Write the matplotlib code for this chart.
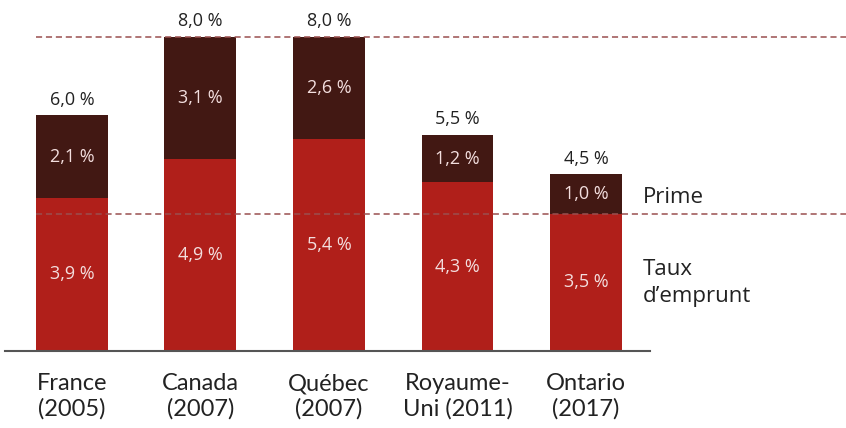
import matplotlib.pyplot as plt

categories = ["France\n(2005)", "Canada\n(2007)", "Québec\n(2007)", "Royaume-\nUni (2011)", "Ontario\n(2017)"]
taux = [3.9, 4.9, 5.4, 4.3, 3.5]
prime = [2.1, 3.1, 2.6, 1.2, 1.0]
totaux = [6.0, 8.0, 8.0, 5.5, 4.5]

red = "#b01f1a"
brown = "#421813"
dash_col = "#9a4f4f"

def fmt(v):
    return ("%.1f %%" % v).replace(".", ",")

fig = plt.figure(figsize=(8.46, 4.28), dpi=100)
ax = fig.add_axes([5 / 846, 1 - 351 / 428, 645 / 846, 351 / 428 - 0.04])

x = list(range(len(categories)))
w = 0.56
ax.bar(x, taux, w, color=red, zorder=2)
ax.bar(x, prime, w, bottom=taux, color=brown, zorder=2)

ax.set_xlim(-0.521, 4.498)
ax.set_ylim(0, 8.5)

# lignes de repere jusqu'au bord droit
for yv in [totaux[1], taux[4]]:
    ax.plot([-0.28, 6.1], [yv, yv], ls=(0, (4, 2.5)), lw=1.1, color=dash_col,
            clip_on=False, zorder=3)

for i in x:
    ax.text(i, taux[i] / 2, fmt(taux[i]), ha="center", va="center",
            color="#f3dede", fontsize=13, family="Open Sans", zorder=4)
    ax.text(i, taux[i] + prime[i] / 2, fmt(prime[i]), ha="center", va="center",
            color="#f3dede", fontsize=13, family="Open Sans", zorder=4)
    ax.text(i, totaux[i] + 0.17, fmt(totaux[i]), ha="center", va="bottom",
            color="#222222", fontsize=13, family="Open Sans")

ax.text(4.44, taux[4] + 0.42, "Prime", ha="left", va="center",
        fontsize=16, family="Open Sans", color="#222222", clip_on=False)
ax.text(4.44, 1.73, "Taux\nd\u2019emprunt", ha="left", va="center",
        fontsize=16, family="Open Sans", color="#222222", linespacing=1.4,
        clip_on=False)

ax.set_xticks(x)
ax.set_xticklabels(categories, fontsize=17, family="Lato",
                   color="#222222", linespacing=1.2)
ax.tick_params(axis="x", length=0, pad=16)
ax.set_yticks([])
for s in ["top", "right", "left"]:
    ax.spines[s].set_visible(False)
ax.spines["bottom"].set_color("#555555")
ax.spines["bottom"].set_linewidth(1.5)

fig.savefig("out.png", dpi=100)
